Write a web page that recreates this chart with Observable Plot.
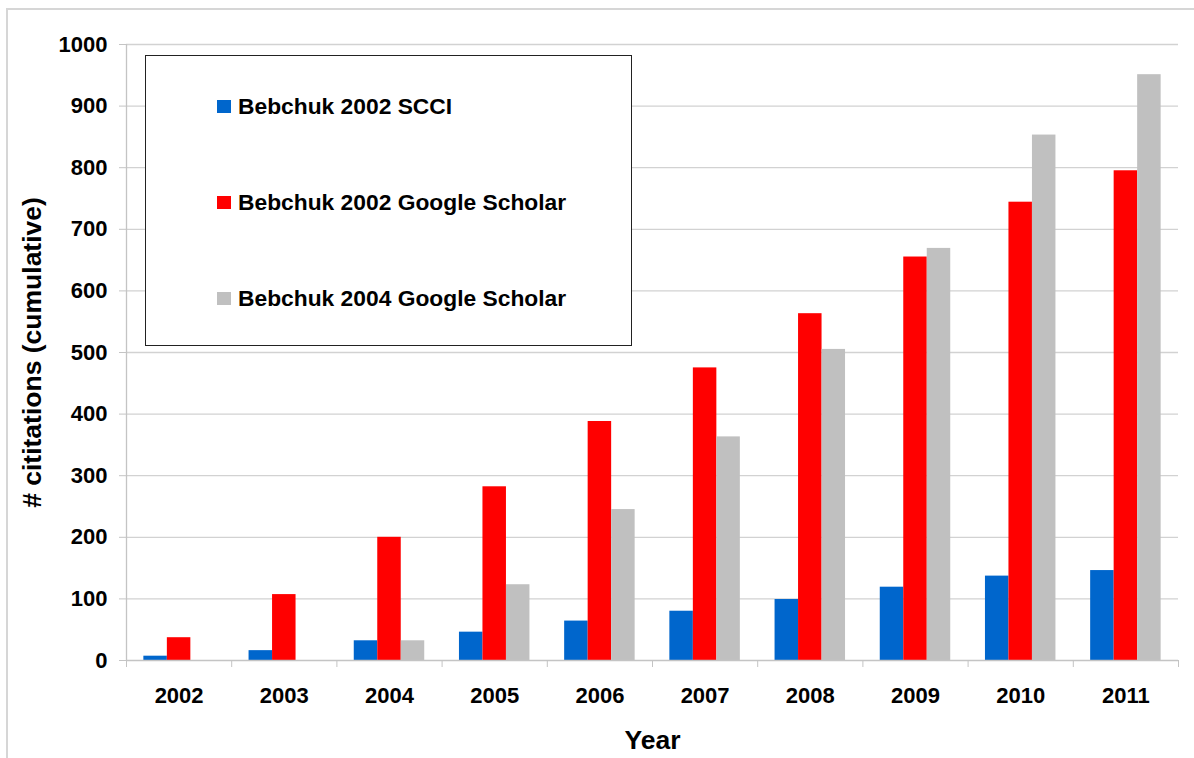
<!DOCTYPE html>
<html>
<head>
<meta charset="utf-8">
<script src="https://cdn.jsdelivr.net/npm/d3@7"></script>
<script src="https://cdn.jsdelivr.net/npm/@observablehq/plot@0.6"></script>
<style>
  html, body { margin: 0; padding: 0; background: #fff; overflow: hidden; }
  #wrap { position: relative; width: 1194px; height: 758px; font-family: "Liberation Sans", Arial, sans-serif; }
  #outer { position: absolute; left: 6px; top: 8px; width: 1200px; height: 770px; border: 2px solid #d6d6d6; box-sizing: border-box; pointer-events: none; }
  #legend { position: absolute; left: 145px; top: 55px; width: 487px; height: 291px; border: 1.3px solid #222; box-sizing: border-box; background: #fff; }
  .item { position: absolute; left: 71px; display: flex; align-items: center; font-weight: bold; font-size: 22.8px; color: #000; white-space: nowrap; }
  .sw { width: 14px; height: 13px; margin-right: 7px; }
  #chart { position: absolute; left: 0; top: 0; }
</style>
</head>
<body>
<div id="wrap">
  <div id="chart"></div>
  <div id="outer"></div>
  <div id="legend"></div>
</div>
<script>
const years = [2002, 2003, 2004, 2005, 2006, 2007, 2008, 2009, 2010, 2011];
const seriesNames = ["Bebchuk 2002 SCCI", "Bebchuk 2002 Google Scholar", "Bebchuk 2004 Google Scholar"];
const seriesColors = ["#0066CC", "#FF0000", "#C0C0C0"];
const scci2002 = [7, 16, 32, 46, 64, 80, 99, 119, 137, 146];
const gs2002 = [37, 107, 200, 282, 388, 475, 563, 655, 744, 795];
const gs2004 = [0, 0, 32, 123, 245, 363, 505, 669, 853, 951];
const yTicks = [0, 100, 200, 300, 400, 500, 600, 700, 800, 900, 1000];
const yTitle = "# cititations (cumulative)";
const xTitle = "Year";

const seriesValues = [scci2002, gs2002, gs2004];
const groupWidth = 0.67;
const barW = groupWidth / seriesNames.length;
const data = [];
seriesNames.forEach((s, i) => {
  years.forEach((y, j) => {
    data.push({
      year: y,
      series: s,
      value: seriesValues[i][j],
      x1: y - groupWidth / 2 + i * barW,
      x2: y - groupWidth / 2 + (i + 1) * barW
    });
  });
});
const boundaries = years.map(y => y - 0.5).concat([years[years.length - 1] + 0.5]);

const chart = Plot.plot({
  width: 1194,
  height: 758,
  marginLeft: 126,
  marginRight: 16,
  marginTop: 44,
  marginBottom: 98,
  style: { fontFamily: "'Liberation Sans', Arial, sans-serif", background: "transparent", color: "#000" },
  x: { domain: [boundaries[0], boundaries[boundaries.length - 1]], label: null },
  y: { domain: [0, 1000], label: null },
  color: { domain: seriesNames, range: seriesColors },
  marks: [
    Plot.gridY(yTicks.filter(d => d > 0), { stroke: "#d2d2d2", strokeOpacity: 1, strokeWidth: 1.3 }),
    Plot.rect(data, { x1: "x1", x2: "x2", y1: 0, y2: "value", fill: "series" }),
    Plot.ruleX([boundaries[0]], { stroke: "#c4c4c4", strokeWidth: 1.3 }),
    Plot.ruleY([0], { stroke: "#c4c4c4", strokeWidth: 1.3 }),
    Plot.axisY({ ticks: yTicks, tickSize: 7, tickPadding: 12, tickFormat: d => String(d), stroke: "#c4c4c4", fill: "#000", fontSize: 22, fontWeight: "bold", label: null }),
    Plot.axisX({ ticks: boundaries, tickSize: 7, tickFormat: () => "", stroke: "#c4c4c4", label: null }),
    Plot.axisX({ ticks: years, tickSize: 0, tickPadding: 27, tickFormat: d => String(d), fill: "#000", fontSize: 22, fontWeight: "bold", label: null }),
    Plot.text([yTitle], { frameAnchor: "left", text: d => d, rotate: -90, dx: -94, textAnchor: "middle", lineAnchor: "middle", fontSize: 26.5, fontWeight: "bold", fill: "#000" }),
    Plot.text([xTitle], { frameAnchor: "bottom", text: d => d, dy: 80, textAnchor: "middle", lineAnchor: "middle", fontSize: 26.5, fontWeight: "bold", fill: "#000" })
  ]
});
document.getElementById("chart").appendChild(chart);

const legend = document.getElementById("legend");
const rowCenters = [50, 146, 242];
seriesNames.forEach((s, i) => {
  const item = document.createElement("div");
  item.className = "item";
  item.style.top = (rowCenters[i] - 14) + "px";
  item.style.height = "28px";
  const sw = document.createElement("span");
  sw.className = "sw";
  sw.style.background = seriesColors[i];
  const label = document.createElement("span");
  label.textContent = s;
  item.appendChild(sw);
  item.appendChild(label);
  legend.appendChild(item);
});
</script>
</body>
</html>
